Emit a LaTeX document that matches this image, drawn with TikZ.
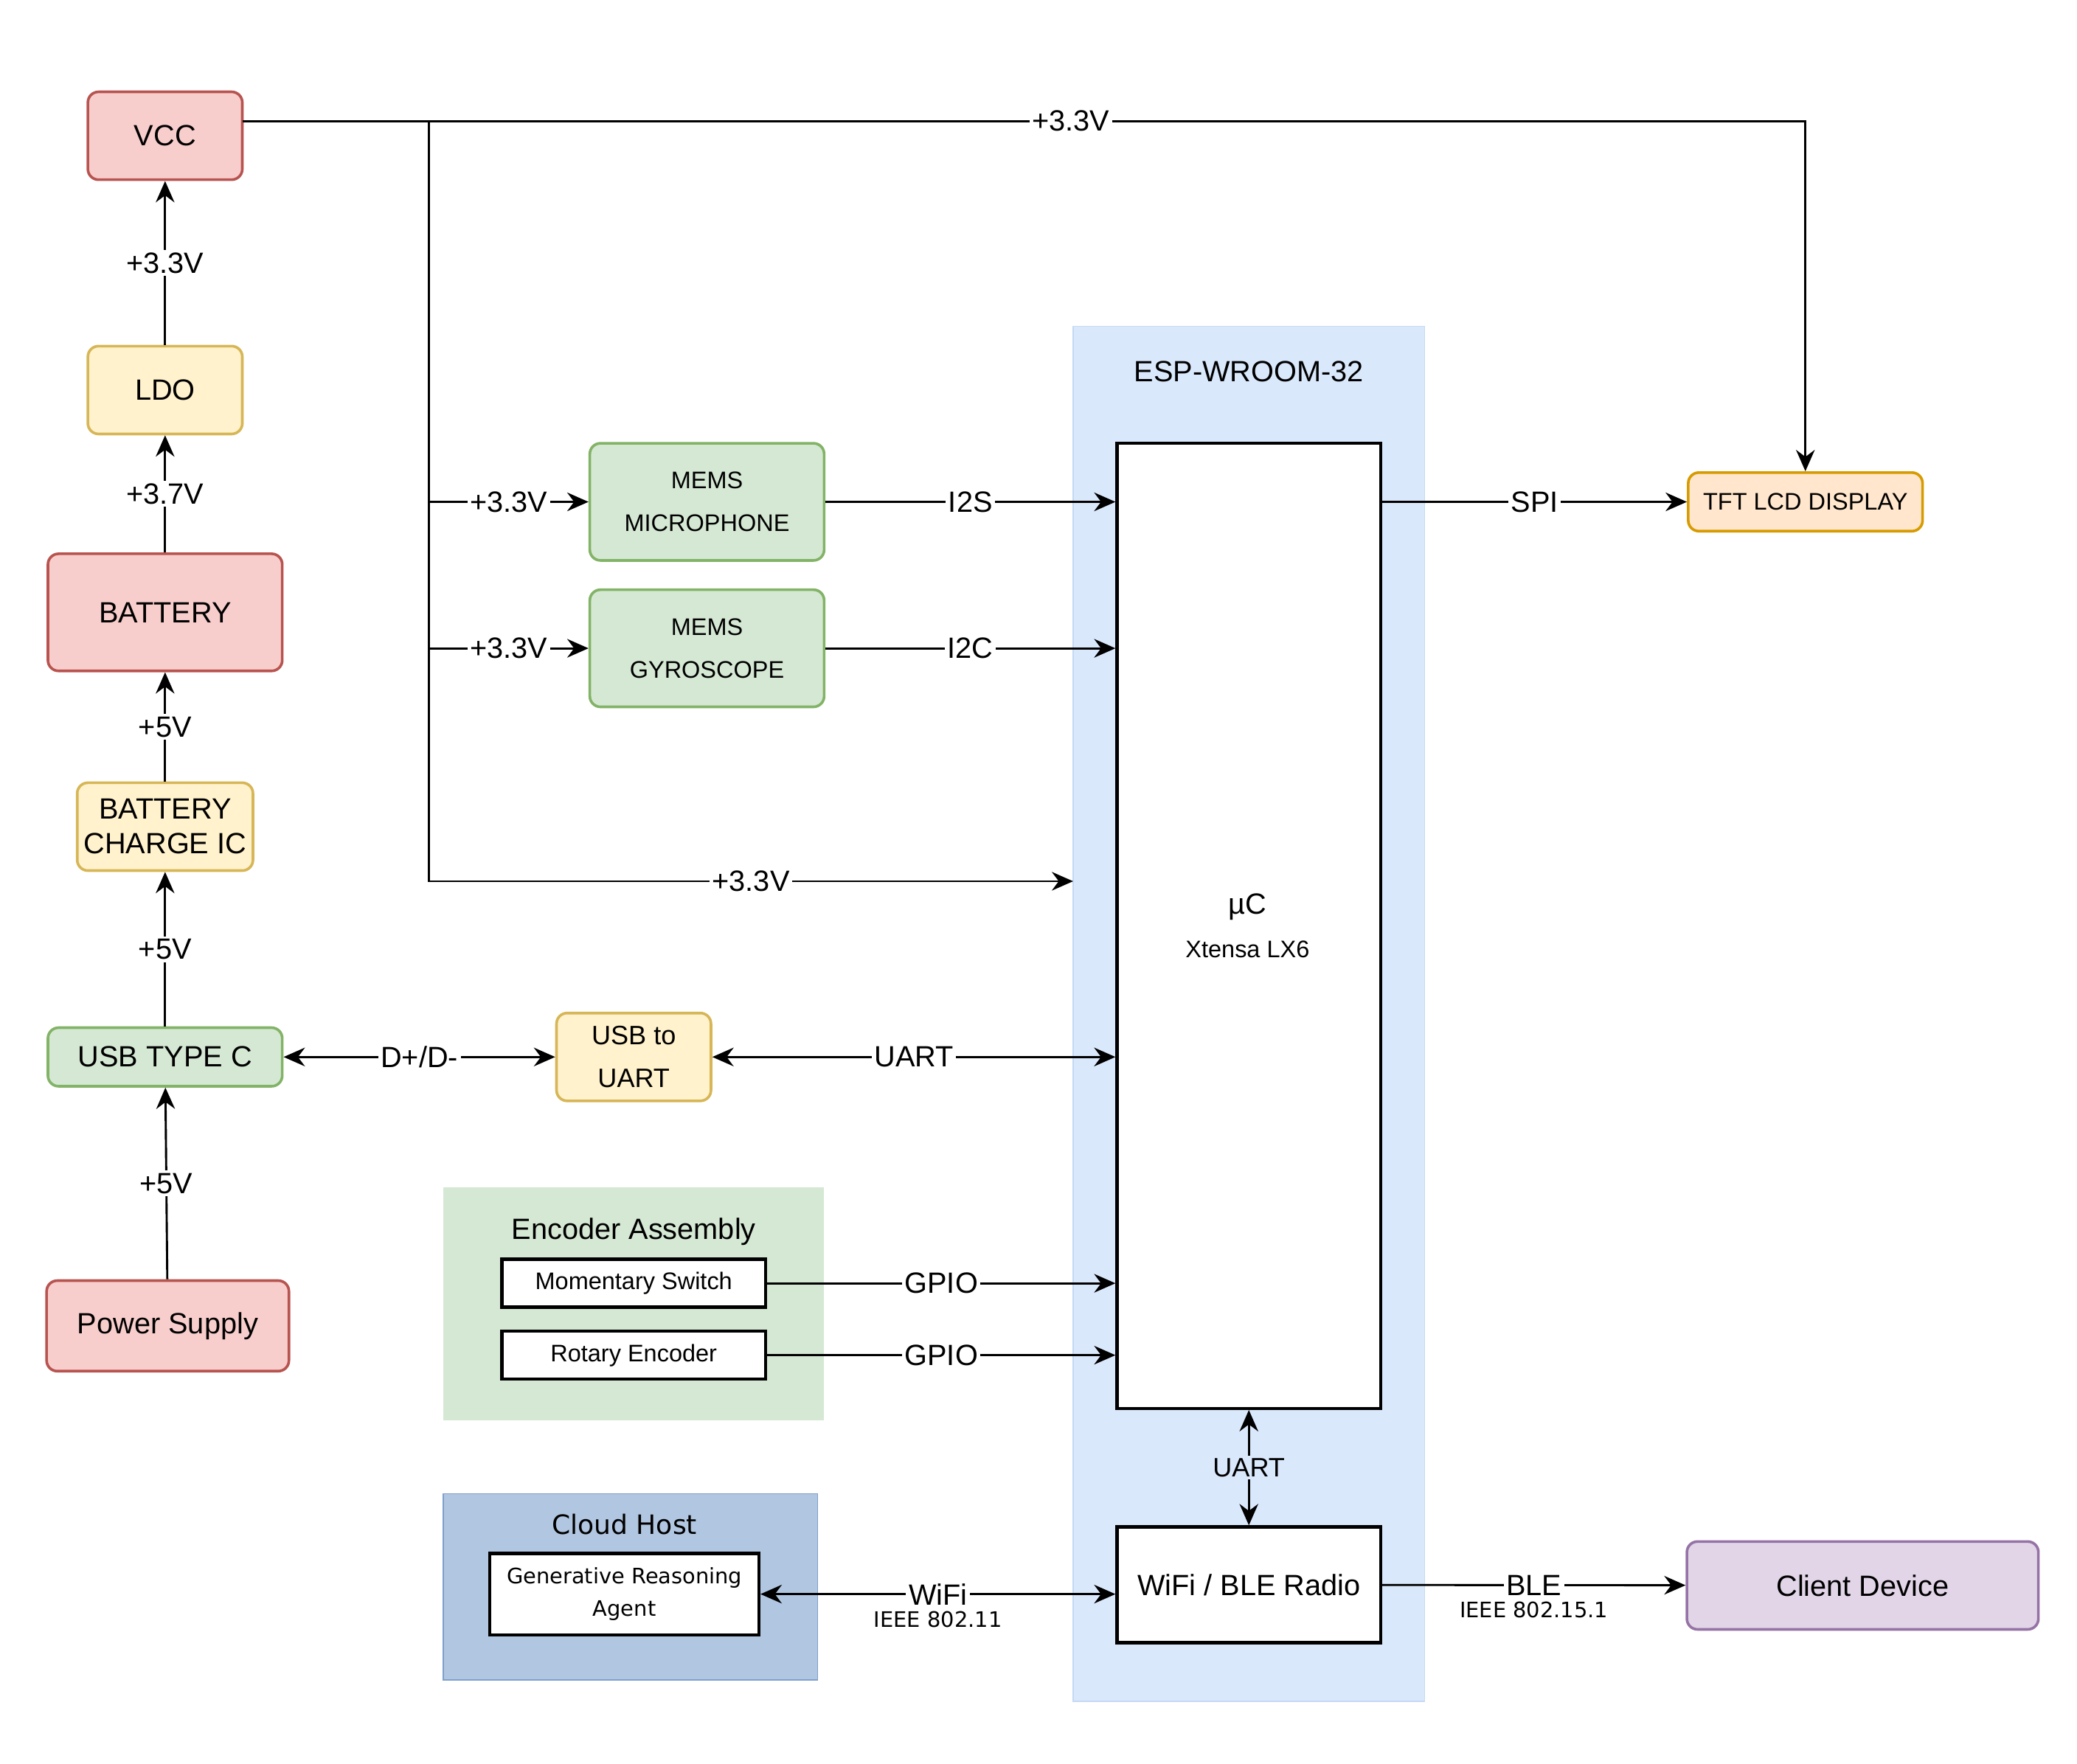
\documentclass[tikz,border=0pt]{standalone}
\usepackage{fontspec}
\setmainfont{Liberation Sans}
\newfontfamily\agentfont{DejaVu Sans}
\usetikzlibrary{arrows.meta,positioning}
\definecolor{redf}{HTML}{F8CECC}\definecolor{redd}{HTML}{B85450}
\definecolor{yelf}{HTML}{FFF2CC}\definecolor{yeld}{HTML}{D6B656}
\definecolor{grnf}{HTML}{D5E8D4}\definecolor{grnd}{HTML}{82B366}
\definecolor{orgf}{HTML}{FFE6CC}\definecolor{orgd}{HTML}{D79B00}
\definecolor{purf}{HTML}{E1D5E7}\definecolor{purd}{HTML}{9673A6}
\definecolor{bluf}{HTML}{DAE8FC}\definecolor{blud}{HTML}{C5D9F5}
\definecolor{clof}{HTML}{B1C6E0}\definecolor{clod}{HTML}{7F9FCB}
\tikzset{
  blk/.style={rectangle, rounded corners=4pt, line width=1pt, align=center, font=\fontsize{11}{13}\selectfont},
  red/.style={blk, fill=redf, draw=redd},
  yel/.style={blk, fill=yelf, draw=yeld},
  grn/.style={blk, fill=grnf, draw=grnd},
  plain/.style={rectangle, draw=black, fill=white, line width=1.2pt, align=center},
  arr/.style={-{Stealth[length=8pt,width=7pt]}, line width=0.8pt},
  arrb/.style={{Stealth[length=8pt,width=7pt]}-{Stealth[length=8pt,width=7pt]}, line width=0.8pt},
  lbl/.style={fill=white, inner sep=1pt, font=\fontsize{11}{13}\selectfont},
  sub/.style={font=\fontsize{8}{9}\selectfont, inner sep=1pt}
}
\begin{document}
\begin{tikzpicture}[x=0.5pt, y=-0.5pt]
  \useasboundingbox (0,0) rectangle (1560,1325);

  % containers
  \node[fill=bluf, draw=blud, minimum width=132pt, minimum height=516.5pt] (esp) at (938,761.5) {};
  \node[font=\fontsize{11}{13}\selectfont] (esptitle) at (938,279) {ESP-WROOM-32};
  \node[fill=grnf, minimum width=143pt, minimum height=87.5pt] (enc) at (476,979.5) {};
  \node[font=\fontsize{11}{13}\selectfont] (enctitle) at (476,925) {Encoder Assembly};
  \node[fill=clof, draw=clod, minimum width=140.5pt, minimum height=70pt] (cloud) at (473.5,1192) {};
  \node[font=\agentfont\fontsize{10}{12}\selectfont] (cloudtitle) at (469,1145) {Cloud Host};

  % power chain
  \node[red, minimum width=58pt, minimum height=33pt] (vcc) at (124,102) {VCC};
  \node[yel, minimum width=58pt, minimum height=33pt] (ldo) at (124,293) {LDO};
  \node[red, minimum width=88pt, minimum height=44pt] (bat) at (124,460) {BATTERY};
  \node[yel, minimum width=66pt, minimum height=33pt, inner sep=1pt] (chg) at (124,621) {BATTERY\\CHARGE IC};
  \node[grn, minimum width=88pt, minimum height=22pt] (usb) at (124,794) {USB TYPE C};
  \node[red, minimum width=91pt, minimum height=34pt] (psu) at (126,996) {Power Supply};

  % peripherals
  \node[grn, minimum width=88pt, minimum height=44pt, font=\fontsize{9}{16}\selectfont] (mic) at (531,377) {MEMS\\MICROPHONE};
  \node[grn, minimum width=88pt, minimum height=44pt, font=\fontsize{9}{16}\selectfont] (gyro) at (531,487) {MEMS\\GYROSCOPE};
  \node[yel, minimum width=58pt, minimum height=33pt, font=\fontsize{10}{16}\selectfont] (u2u) at (476,794) {USB to\\UART};
  \node[blk, fill=orgf, draw=orgd, minimum width=88pt, minimum height=22pt, font=\fontsize{9}{11}\selectfont] (tft) at (1356,377) {TFT LCD DISPLAY};
  \node[blk, fill=purf, draw=purd, minimum width=132pt, minimum height=33pt] (client) at (1399,1191) {Client Device};
  \node[plain, minimum width=99pt, minimum height=18pt, font=\fontsize{9}{11}\selectfont] (sw) at (476,964) {Momentary Switch};
  \node[plain, minimum width=99pt, minimum height=18pt, font=\fontsize{9}{11}\selectfont] (rot) at (476,1018) {Rotary Encoder};
  \node[plain, minimum width=101pt, minimum height=30.5pt, font=\agentfont\fontsize{8}{12}\selectfont] (agent) at (469,1197.5) {Generative Reasoning\\Agent};

  % module
  \node[plain, minimum width=99pt, minimum height=362.5pt, align=center] (mc) at (938,695.5) {};
  \node[font=\fontsize{11}{13}\selectfont] (mclbl) at (937,681) {µC};
  \node[font=\fontsize{9}{11}\selectfont] (mcsub) at (937,713) {Xtensa LX6};
  \node[plain, minimum width=99pt, minimum height=43.5pt, font=\fontsize{11}{13}\selectfont] (wifi) at (938,1190.5) {WiFi / BLE Radio};

  % power wiring
  \draw[arr] (ldo) -- node[lbl]{+3.3V} (vcc);
  \draw[arr] (bat) -- node[lbl]{+3.7V} (ldo);
  \draw[arr] (chg) -- node[lbl]{+5V} (bat);
  \draw[arr] (usb) -- node[lbl]{+5V} (chg);
  \draw[arr] (psu) -- node[lbl]{+5V} (usb);

  \coordinate (vtap) at (182,91);
  \coordinate (bus) at (322,91);
  \coordinate (bend) at (1356,91);
  \coordinate (espin) at (806,662);
  \draw[arr] (vtap) -- node[lbl, pos=0.53]{+3.3V} (bend) -- (tft);
  \draw[arr] (bus) |- node[lbl, pos=0.75]{+3.3V} (espin);
  \draw[arr] (bus |- mic) -- node[lbl]{+3.3V} (mic);
  \draw[arr] (bus |- gyro) -- node[lbl]{+3.3V} (gyro);

  % signals
  \draw[arr] (mic) -- node[lbl]{I2S} (mic -| mc.west);
  \draw[arr] (gyro) -- node[lbl]{I2C} (gyro -| mc.west);
  \draw[arr] (tft -| mc.east) -- node[lbl]{SPI} (tft);
  \draw[arrb] (usb) -- node[lbl]{D+/D-} (u2u);
  \draw[arrb] (u2u) -- node[lbl]{UART} (u2u -| mc.west);
  \draw[arr] (sw) -- node[lbl]{GPIO} (sw -| mc.west);
  \draw[arr] (rot) -- node[lbl]{GPIO} (rot -| mc.west);
  \draw[arrb] (mc) -- node[lbl, fill=bluf, font=\fontsize{10}{12}\selectfont]{UART} (wifi);
  \draw[arrb] (agent.east) -- node[lbl](wlbl){WiFi} (agent.east -| wifi.west);
  \node[sub, below=0pt of wlbl, font=\agentfont\fontsize{8}{9}\selectfont] (wsub) {IEEE 802.11};
  \draw[arr] (wifi) -- node[lbl](blbl){BLE} (client);
  \node[sub, below=0pt of blbl, font=\agentfont\fontsize{8}{9}\selectfont] (bsub) {IEEE 802.15.1};
\end{tikzpicture}
\end{document}
